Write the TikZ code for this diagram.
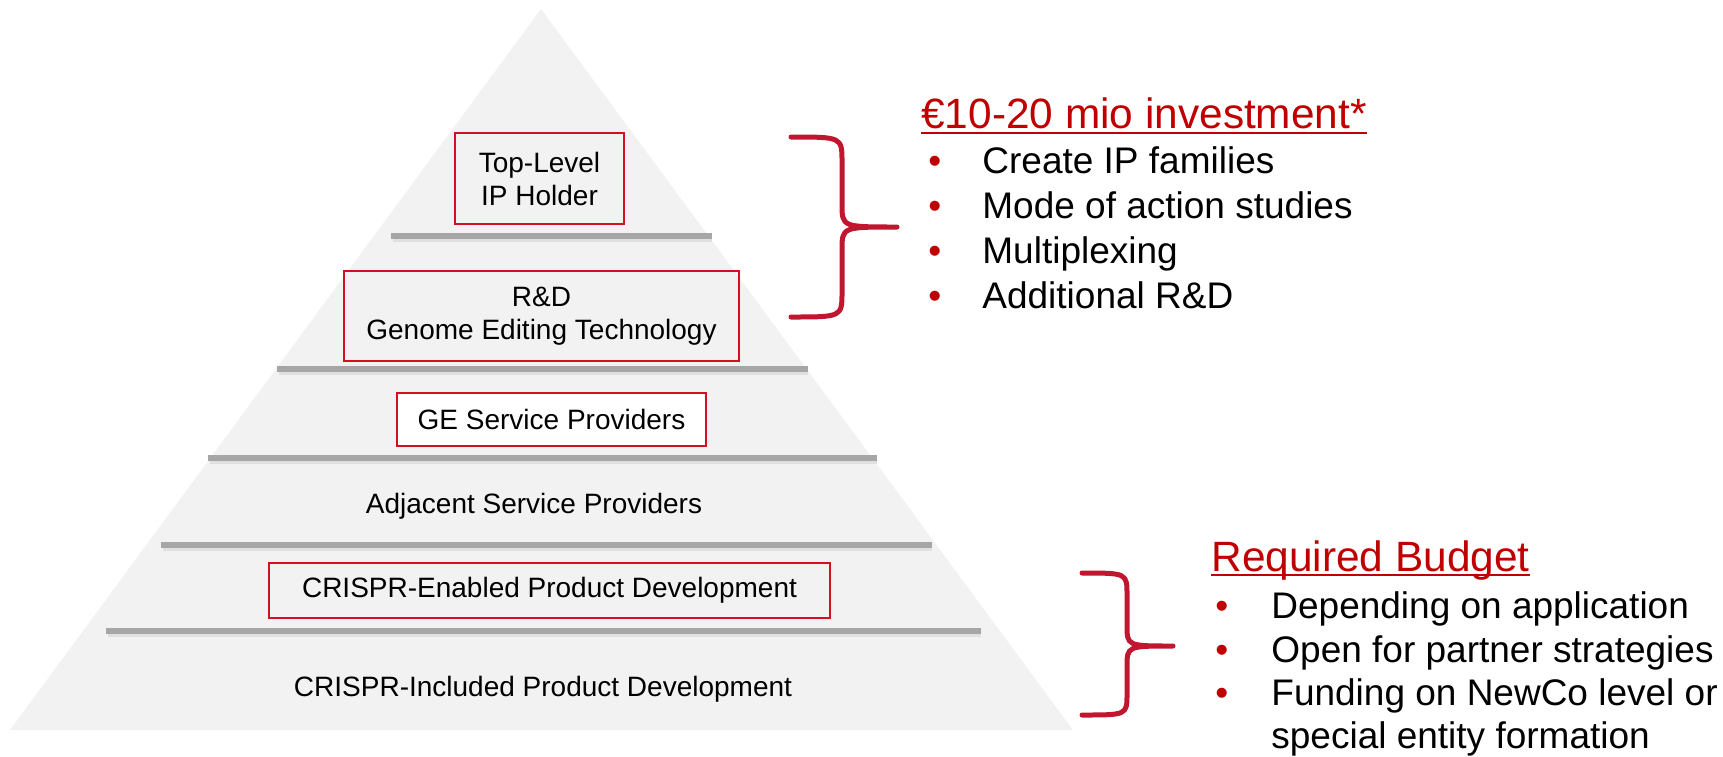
\documentclass[tikz,border=0pt]{standalone}
\usepackage{fontspec}
\setmainfont{Liberation Sans}
\definecolor{pyrfill}{RGB}{242,242,242}
\definecolor{shelfgray}{RGB}{166,166,166}
\definecolor{boxred}{RGB}{210,16,32}
\definecolor{bracered}{RGB}{192,22,48}
\definecolor{headred}{RGB}{192,0,0}
\tikzset{
  redbox/.style={draw=boxred, line width=1pt, inner sep=0pt, align=center,
    font=\fontsize{14pt}{16.5pt}\selectfont},
  pyrtext/.style={inner sep=0pt, align=center, font=\fontsize{14pt}{16.5pt}\selectfont},
  shelf/.style={shelfgray, line width=3.2pt},
  shelfshadow/.style={black!12, line width=2pt},
  bracket/.style={bracered, line width=2.5pt, line join=round, line cap=round},
  heading/.style={headred, anchor=base west, inner sep=0pt, font=\fontsize{21.2pt}{24pt}\selectfont},
  dot/.style={headred, anchor=base west, inner sep=0pt, font=\fontsize{18.5pt}{22.5pt}\selectfont},
  item/.style={anchor=base west, inner sep=0pt, font=\fontsize{18.5pt}{22.5pt}\selectfont}
}
\begin{document}
\begin{tikzpicture}[x=0.5pt,y=-0.5pt]
  \useasboundingbox (0,0) rectangle (1723,756);
  \fill [pyrfill] (541,9) -- (1073,730) -- (10,730) -- cycle;
  \draw [shelfshadow] (393,240) -- (712,240);
  \draw [shelf] (391,236) -- (712,236);
  \draw [shelfshadow] (279,373) -- (808,373);
  \draw [shelf] (277,369) -- (808,369);
  \draw [shelfshadow] (210,462) -- (877,462);
  \draw [shelf] (208,458) -- (877,458);
  \draw [shelfshadow] (163,549) -- (932,549);
  \draw [shelf] (161,545) -- (932,545);
  \draw [shelfshadow] (108,635) -- (981,635);
  \draw [shelf] (106,631) -- (981,631);
  \node [redbox, minimum width=84.5pt, minimum height=45.5pt] (toplevel) at (539.5,178.5) {Top-Level\\IP Holder};
  \node [redbox, minimum width=197.5pt, minimum height=45pt] (rnd) at (541.5,316) {R\&D\\Genome Editing Technology};
  \node [redbox, fill=white, minimum width=154.5pt, minimum height=26.5pt] (gesp) at (551.5,419.5) {GE Service Providers};
  \node [pyrtext] (adjsp) at (534,506) {Adjacent Service Providers};
  \node [redbox, minimum width=280.5pt, minimum height=27.5pt] (enabled) at (549.5,590.5) {CRISPR-Enabled Product Development};
  \node [pyrtext] (included) at (543,689) {CRISPR-Included Product Development};
  \draw [bracket] (791,137) .. controls (842,137) .. (842,162) -- (842,204) .. controls (842,227) .. (897,227)
    .. controls (842,227) .. (842,250) -- (842,292) .. controls (842,317) .. (791,317);
  \draw [bracket] (1082,573) .. controls (1127,573) .. (1127,595) -- (1127,625) .. controls (1127,646) .. (1173,646)
    .. controls (1127,646) .. (1127,667) -- (1127,694) .. controls (1127,715) .. (1082,715);
  \node [heading] (invest) at (921,128) {€10-20 mio investment*};
  \draw [headred, line width=1pt] ([yshift=-2.5pt]invest.base west) -- ([yshift=-2.5pt]invest.base east);
  \node [dot] (d1) at (928,173) {•};
  \node [item] (i1) at (982,173) {Create IP families};
  \node [dot] (d2) at (928,218) {•};
  \node [item] (i2) at (982,218) {Mode of action studies};
  \node [dot] (d3) at (928,263) {•};
  \node [item] (i3) at (982,263) {Multiplexing};
  \node [dot] (d4) at (928,308) {•};
  \node [item] (i4) at (982,308) {Additional R\&D};
  \node [heading] (budget) at (1211,571) {Required Budget};
  \draw [headred, line width=1pt] ([yshift=-2pt]budget.base west) -- ([yshift=-2pt]budget.base east);
  \node [dot] (e1) at (1215,618) {•};
  \node [item] (j1) at (1271,618) {Depending on application};
  \node [dot] (e2) at (1215,662) {•};
  \node [item] (j2) at (1271,662) {Open for partner strategies};
  \node [dot] (e3) at (1215,705) {•};
  \node [item] (j3) at (1271,705) {Funding on NewCo level or};
  \node [item] (j4) at (1271,748) {special entity formation};
\end{tikzpicture}
\end{document}
